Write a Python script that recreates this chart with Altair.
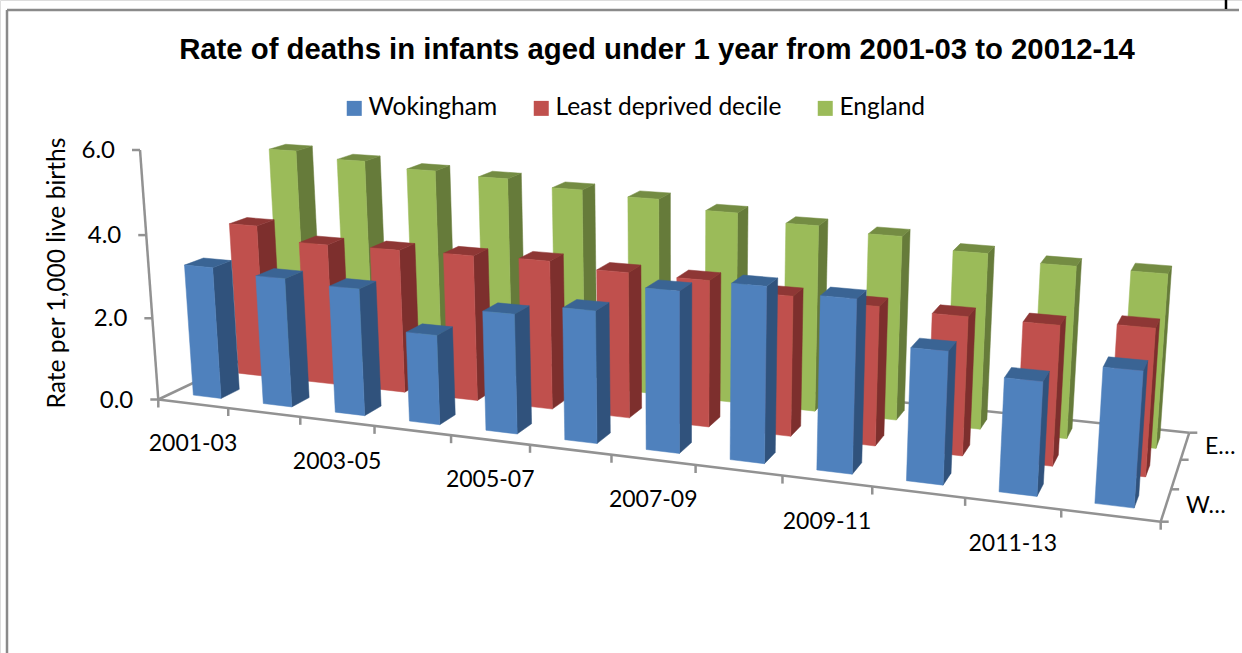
import altair as alt
import numpy as np
import pandas as pd

# Values per three-year period, in deaths per 1,000 live births
periods = ["2001-03", "2002-04", "2003-05", "2004-06", "2005-07", "2006-08",
           "2007-09", "2008-10", "2009-11", "2010-12", "2011-13", "2012-14"]
wokingham = [3.2, 3.1, 3.02, 2.11, 2.78, 3.03, 3.64, 3.91, 3.81, 2.88, 2.44, 2.86]
least_deprived = [3.8, 3.48, 3.5, 3.52, 3.55, 3.44, 3.42, 3.23, 3.17, 3.12, 3.11, 3.23]
england = [5.32, 5.18, 5.06, 4.99, 4.85, 4.76, 4.57, 4.41, 4.31, 4.07, 3.94, 3.93]
series_names = ["Wokingham", "Least deprived decile", "England"]
series_values = [wokingham, least_deprived, england]
front_colors = ["#4F81BD", "#C0504D", "#9BBB59"]
side_colors = ["#30527C", "#7D2F2D", "#667B3A"]
top_colors = ["#3A6494", "#8E3735", "#748C43"]
value_ticks = [0, 2, 4, 6]
value_labels = ["0.0", "2.0", "4.0", "6.0"]
depth_labels = {0: "W…", 2: "E…"}

W, H = 1242, 653
AXIS_GREY = "#929292"
BAR_SHARE = 0.4  # bar width and depth as a share of one category slot


def fit_floor(corners):
    """Homography from the unit floor square (period, series) to the page."""
    src = [(0, 0), (1, 0), (1, 1), (0, 1)]
    rows, rhs = [], []
    for (a, b), (x, y) in zip(src, corners):
        rows.append([a, b, 1, 0, 0, 0, -a * x, -b * x])
        rows.append([0, 0, 0, a, b, 1, -a * y, -b * y])
        rhs += [x, y]
    h = np.linalg.solve(np.array(rows, float), np.array(rhs, float))
    return np.append(h, 1).reshape(3, 3)


# Camera set-up: floor corners, vertical vanishing point, height of the 6.0 tick
FLOOR = fit_floor([(158.3, 399.5), (1160.7, 521.7), (1189.3, 432.7), (289.0, 337.4)])
VANISH = np.array([676.0, 7465.0, 1.0])
TOP_Y = 150.0
LIFT = (TOP_Y - 399.5) / (6 * (VANISH[1] - TOP_Y))


def project(u, v, w=0.0):
    p = FLOOR @ np.array([u / 12, v / 3, 1.0]) + w * LIFT * VANISH
    return [float(p[0] / p[2]), float(p[1] / p[2])]


def polygon(points, fill):
    ring = points + [points[0]]
    return {"type": "Feature", "properties": {"fill": fill},
            "geometry": {"type": "Polygon", "coordinates": [ring]}}


def segment(a, b, stroke=AXIS_GREY):
    return {"type": "Feature", "properties": {"stroke": stroke},
            "geometry": {"type": "LineString", "coordinates": [a, b]}}


def shifted(p, dx=0, dy=0):
    return [p[0] + dx, p[1] + dy]


# Bars run back to front by series and left to right by period
bars = []
gap = (1 - BAR_SHARE) / 2
for s in (2, 1, 0):
    for i, value in enumerate(series_values[s]):
        u0, u1 = i + gap, i + 1 - gap
        v0, v1 = s + gap, s + 1 - gap
        bars.append(polygon([project(u1, v0), project(u1, v1),
                             project(u1, v1, value), project(u1, v0, value)], side_colors[s]))
        bars.append(polygon([project(u0, v0, value), project(u1, v0, value),
                             project(u1, v1, value), project(u0, v1, value)], top_colors[s]))
        bars.append(polygon([project(u0, v0), project(u1, v0),
                             project(u1, v0, value), project(u0, v0, value)], front_colors[s]))

# Axes, tick marks and the surrounding frame
lines = [
    segment([7, 653], [7, 10], "#8A8A8A"),
    segment([7, 10], [1239, 10], "#8A8A8A"),
    segment([1226, 0], [1226, 9], "#000000"),
    segment(project(0, 0), project(0, 0, 6)),
    segment(project(0, 0), project(12, 0)),
    segment(project(0, 0), project(0, 3)),
    segment(project(0, 3), project(12, 3)),
    segment(project(12, 0), project(12, 3)),
]
for t in value_ticks:
    p = project(0, 0, t)
    lines.append(segment(shifted(p, dx=-8), p))
for i in range(13):
    p = project(i, 0)
    lines.append(segment(p, shifted(p, dy=8)))
for j in range(4):
    p = project(12, j)
    lines.append(segment(p, shifted(p, dx=8)))

# Text positions follow the projected axes
text_rows = []
for i in range(0, 12, 2):
    p = project(i + 0.5, 0)
    text_rows.append({"label": periods[i], "x": p[0], "y": p[1] + 40.5, "align": "center", "size": 23})
for t, lab in zip(value_ticks, value_labels):
    p = project(0, 0, t)
    text_rows.append({"label": lab, "x": p[0] - 25, "y": p[1] + 1, "align": "right", "size": 24})
for j, lab in depth_labels.items():
    p = project(12, j + 0.5)
    text_rows.append({"label": lab, "x": p[0] + 20, "y": p[1] + 1, "align": "left", "size": 23})
text_df = pd.DataFrame(text_rows)

page_x = alt.X("x:Q", scale=alt.Scale(domain=[0, W], range=[0, W]), axis=None)
page_y = alt.Y("y:Q", scale=alt.Scale(domain=[0, H], range=[0, H]), axis=None)

line_layer = (
    alt.Chart(alt.Data(values=lines))
    .mark_geoshape(filled=False, strokeWidth=2.5)
    .encode(stroke=alt.Stroke("properties.stroke:N", scale=None))
    .project(type="identity", scale=1, translate=[0, 0])
)
bar_layer = (
    alt.Chart(alt.Data(values=bars))
    .mark_geoshape(strokeWidth=0.5)
    .encode(fill=alt.Fill("properties.fill:N", scale=None),
            stroke=alt.Stroke("properties.fill:N", scale=None))
    .project(type="identity", scale=1, translate=[0, 0])
)


def text_layer(align):
    return (
        alt.Chart(text_df[text_df["align"] == align])
        .mark_text(font="Lato", align=align, baseline="middle", color="#000000")
        .encode(x=page_x, y=page_y, text="label:N",
                size=alt.Size("size:Q", scale=None, legend=None))
    )


title_layer = (
    alt.Chart(pd.DataFrame({"label": ["Rate of deaths in infants aged under 1 year from 2001-03 to 20012-14"],
                            "x": [657], "y": [49.5]}))
    .mark_text(font="Liberation Sans", fontSize=29.3, fontWeight="bold", align="center",
               baseline="middle", color="#000000")
    .encode(x=page_x, y=page_y, text="label:N")
)
axis_title_layer = (
    alt.Chart(pd.DataFrame({"label": ["Rate per 1,000 live births"], "x": [58], "y": [273]}))
    .mark_text(font="Lato", fontSize=24.6, angle=270, align="center", baseline="middle", color="#000000")
    .encode(x=page_x, y=page_y, text="label:N")
)
legend_layer = (
    alt.Chart(pd.DataFrame({"series": series_names}))
    .mark_square(size=0, opacity=1)
    .encode(
        x=alt.value(0),
        y=alt.value(0),
        color=alt.Color(
            "series:N",
            scale=alt.Scale(domain=series_names, range=front_colors),
            legend=alt.Legend(
                orient="none", legendX=342, legendY=96, direction="horizontal", title=None,
                symbolType="square", symbolSize=225, symbolStrokeWidth=0, symbolOpacity=1,
                labelFont="Lato", labelFontSize=24.5, labelColor="#000000", labelLimit=400,
                columnPadding=31, labelOffset=2,
            ),
        ),
    )
)

chart = (
    alt.layer(line_layer, bar_layer, text_layer("center"), text_layer("right"), text_layer("left"),
              title_layer, axis_title_layer, legend_layer)
    .properties(width=W, height=H, padding=0, autosize=alt.AutoSizeParams(type="none"))
    .configure_view(stroke=None)
    .configure(background="#FFFFFF")
)
chart.save("out.html", embed_options={"renderer": "svg", "actions": False})
